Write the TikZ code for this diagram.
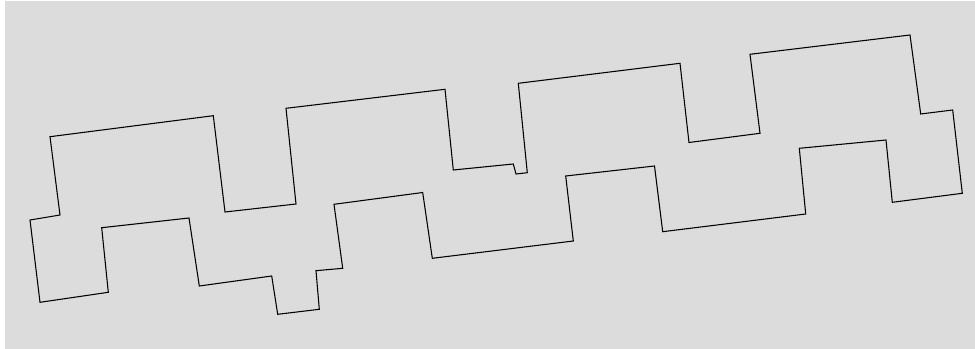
\documentclass[tikz,border=0pt]{standalone}
\usepackage{tikz}
\usetikzlibrary{calc}

\definecolor{panel}{RGB}{220,220,220}

\tikzset{
  outline/.style={draw=black, line width=0.8pt, line join=miter}
}

\begin{document}
\begin{tikzpicture}[x=0.75pt, y=-0.75pt]

\fill[white] (0, 0) rectangle (975, 349);
\fill[panel] (5, 1) rectangle (975, 349);
\useasboundingbox (0, 0) rectangle (975, 349);

% upper row of steps, then back along the lower row
\draw[outline]
  (50, 136.7) -- (213.3, 115.7) -- (225, 212) -- (296, 204)
  -- (286, 108.3) -- (445, 89.3) -- (453.3, 170) -- (513.3, 164)
  -- (516, 174) -- (527.3, 172.7) -- (518.3, 83.3) -- (680, 63.3)
  -- (689, 142.5) -- (760, 133.3) -- (750, 54.3) -- (910, 35)
  -- (920.7, 114) -- (952.7, 110) -- (962.3, 193.3) -- (892.3, 202.3)
  -- (886, 140) -- (799.3, 148.3) -- (805.7, 214) -- (662.7, 231.7)
  -- (654.5, 166) -- (565.7, 176) -- (573.3, 241) -- (432.3, 258.3)
  -- (422.7, 192.5) -- (334, 204.3) -- (342.7, 268.3) -- (316, 270.7)
  -- (319.3, 309.3) -- (277.7, 314.3) -- (271.7, 276) -- (199.3, 286)
  -- (189, 218) -- (101.7, 227.7) -- (108.3, 292.3) -- (40, 302.3)
  -- (30, 220) -- (60, 215) -- cycle;

\end{tikzpicture}
\end{document}
